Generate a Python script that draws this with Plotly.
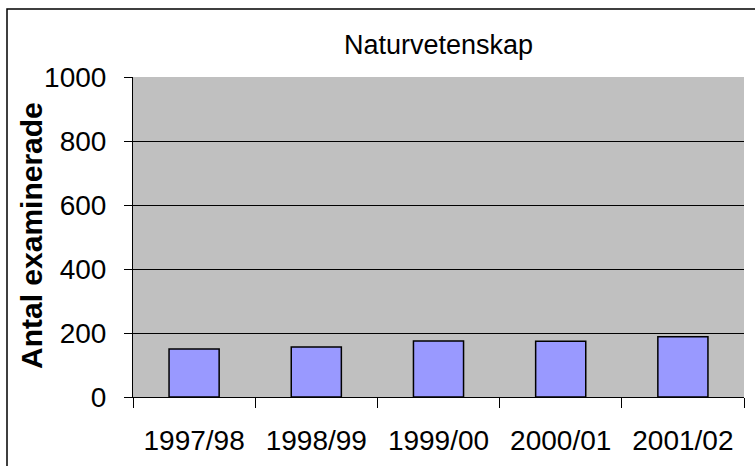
import plotly.graph_objects as go

categories = ["1997/98", "1998/99", "1999/00", "2000/01", "2001/02"]
values = [150, 156, 175, 174, 188]
y_ticks = [0, 200, 400, 600, 800, 1000]

fig = go.Figure()
fig.add_trace(go.Bar(
    x=categories, y=values, width=0.41,
    marker=dict(color="#9999FF", line=dict(color="black", width=1.5)),
))

FONT = "Liberation Sans, Arial, sans-serif"
fig.update_layout(
    width=755, height=466,
    margin=dict(l=133, r=11, t=77, b=69),
    paper_bgcolor="white", plot_bgcolor="#C0C0C0",
    showlegend=False,
    font=dict(family=FONT, size=28, color="black"),
    xaxis=dict(
        type="category", tickson="boundaries", ticks="outside", ticklen=10,
        tickcolor="black", showline=True, linecolor="black", linewidth=1,
        showgrid=False, tickfont=dict(size=28), range=[-0.5, 4.5],
        ticklabelstandoff=18,
    ),
    yaxis=dict(
        range=[0, 1000], tickvals=y_ticks, ticks="outside", ticklen=8,
        tickcolor="black", showline=True, linecolor="black", linewidth=1,
        showgrid=True, gridcolor="black", gridwidth=1, zeroline=False,
        tickfont=dict(size=28), ticklabelstandoff=12,
    ),
    annotations=[
        dict(text="Naturvetenskap", x=0.5, y=(397 - 45) / 320, xref="paper", yref="paper",
             showarrow=False, font=dict(size=27), xanchor="center", yanchor="middle"),
        dict(text="<b>Antal examinerade</b>", x=(31 - 133) / 611, y=(397 - 236) / 320,
             xref="paper", yref="paper", showarrow=False, textangle=-90,
             font=dict(size=30), xanchor="center", yanchor="middle"),
    ],
    shapes=[
        dict(type="rect", xref="paper", yref="paper",
             x0=(7 - 133) / 611, x1=(770 - 133) / 611,
             y0=(397 - 480) / 320, y1=(397 - 9) / 320,
             line=dict(color="black", width=1.5), fillcolor="rgba(0,0,0,0)", layer="below"),
    ],
)

fig.write_html("out.html", config={"displayModeBar": False},
               post_script="document.body.style.margin='0';")
